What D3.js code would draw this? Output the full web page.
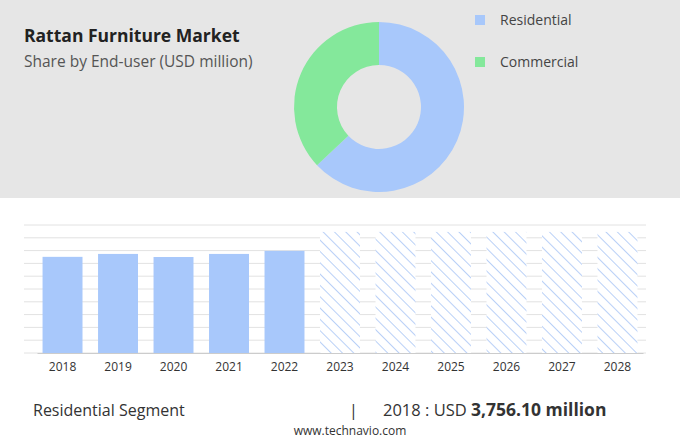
<!DOCTYPE html><html><head><meta charset="utf-8">
<script src="https://cdn.jsdelivr.net/npm/d3@7"></script>
<style>body{margin:0;font-family:"Open Sans",sans-serif}</style></head><body>
<svg id="c" width="680" height="440"></svg>
<script>
const years=["2018","2019","2020","2021","2022","2023","2024","2025","2026","2027","2028"];
const values=[3756.1,3870,3750,3870,3990,null,null,null,null,null,null];
const forecastLevel=4730;
const shareLabels=["Residential","Commercial"];
const shares=[63,37];
const colors=["#a8c8fb","#84e89b"];

const svg=d3.select("#c");
svg.append("rect").attr("width",680).attr("height",198).attr("fill","#e6e6e6");
svg.append("text").attr("x",24).attr("y",42).text("Rattan Furniture Market").attr("font-size",17.5).attr("font-weight",700).attr("fill","#222");
svg.append("text").attr("x",24).attr("y",67).text("Share by End-user (USD million)").attr("font-size",15.5).attr("fill","#555");

const pie=d3.pie().sort(null).value(d=>d)(shares);
const arc=d3.arc().innerRadius(42).outerRadius(85);
const g=svg.append("g").attr("transform","translate(379,107)");
g.selectAll("path").data(pie).join("path").attr("d",arc).attr("fill",(d,i)=>colors[i]);

shareLabels.forEach((l,i)=>{
 svg.append("rect").attr("x",475).attr("y",15+i*42).attr("width",10).attr("height",10).attr("fill",colors[i]);
 svg.append("text").attr("x",500).attr("y",25+i*42).text(l).attr("font-size",14).attr("fill","#444");
});

const defs=svg.append("defs");
const p=defs.append("pattern").attr("id","h").attr("patternUnits","userSpaceOnUse").attr("width",8).attr("height",8).attr("patternTransform","rotate(-45)");
p.append("rect").attr("width",8).attr("height",8).attr("fill","#fff");
p.append("line").attr("x1",0).attr("y1",0).attr("x2",0).attr("y2",8).attr("stroke","#b9d0f7").attr("stroke-width",2);

const x=d3.scaleBand().domain(years).range([37,643]).paddingInner(0.28).paddingOuter(0.1);
const y=d3.scaleLinear().domain([0,5000]).range([353,225]);
y.ticks(10).forEach(t=>svg.append("line").attr("x1",24).attr("x2",646).attr("y1",y(t)).attr("y2",y(t)).attr("stroke","#e2e2e2"));
svg.selectAll(".b").data(years).join("rect")
 .attr("x",d=>x(d)).attr("width",x.bandwidth())
 .attr("y",(d,i)=>y(values[i]??forecastLevel)).attr("height",(d,i)=>353-y(values[i]??forecastLevel))
 .attr("fill",(d,i)=>values[i]==null?"url(#h)":colors[0]);
const ax=svg.append("g").attr("transform","translate(0,353)").call(d3.axisBottom(x).tickSize(0).tickPadding(9));
ax.select(".domain").attr("stroke","#ccc");
ax.selectAll("text").attr("font-size",12).attr("fill","#333").attr("font-family","Open Sans");

svg.append("text").attr("x",33).attr("y",416).text("Residential Segment").attr("font-size",16).attr("fill","#333");
svg.append("text").attr("x",349).attr("y",416).text("|").attr("font-size",16).attr("fill","#333");
const t=svg.append("text").attr("x",383).attr("y",416).attr("font-size",16.5).attr("fill","#333");
t.append("tspan").text("2018 : USD ");
t.append("tspan").text("3,756.10 million").attr("font-weight",700).attr("font-size",17.5);
svg.append("text").attr("x",350).attr("y",435).attr("text-anchor","middle").text("www.technavio.com").attr("font-size",12).attr("fill","#333");
</script></body></html>
